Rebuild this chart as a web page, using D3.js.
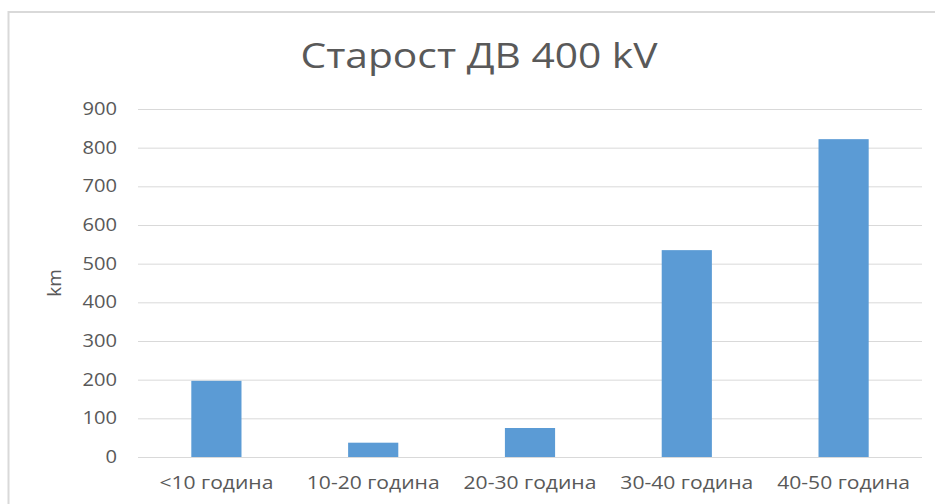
<!DOCTYPE html>
<html>
<head>
<meta charset="utf-8">
<script src="https://cdn.jsdelivr.net/npm/d3@7/dist/d3.min.js"></script>
<style>
  body { margin: 0; background: #fff; }
  text { font-family: "Open Sans", sans-serif; fill: #595959; }
</style>
</head>
<body>
<svg width="935" height="504"></svg>
<script>
var categories = ['<10 година', '10-20 година', '20-30 година', '30-40 година', '40-50 година'];
var values = [197, 37, 75, 535, 822];
var yTicks = [0, 100, 200, 300, 400, 500, 600, 700, 800, 900];

var svg = d3.select('svg');
var margin = {left: 138, right: 13, top: 109, bottom: 47};
var width = 935;
var height = 504;

// stretch text a bit wider, the original looks horizontally scaled
function widen(sel, k) {
  sel.each(function(){
    var len = this.getComputedTextLength();
    d3.select(this)
      .attr('textLength', len * k)
      .attr('lengthAdjust', 'spacingAndGlyphs');
  });
}

// chart frame
svg.append('rect')
  .attr('x', 8.5).attr('y', 12)
  .attr('width', 940).attr('height', 510)
  .attr('fill', 'none')
  .attr('stroke', '#d9d9d9')
  .attr('stroke-width', 2);

var x = d3.scaleBand()
  .domain(categories)
  .range([margin.left, width - margin.right])
  .paddingInner(0.68)
  .paddingOuter(0.34);

var y = d3.scaleLinear()
  .domain([0, 900])
  .range([height - margin.bottom, margin.top]);

// gridlines
var yAxis = d3.axisLeft(y)
  .tickValues(yTicks)
  .tickSize(-(width - margin.left - margin.right))
  .tickPadding(21)
  .tickFormat(d3.format('d'));

var gy = svg.append('g')
  .attr('transform', 'translate(' + margin.left + ',0)')
  .call(yAxis);
gy.select('.domain').remove();
gy.selectAll('line').attr('stroke', '#d9d9d9').attr('stroke-width', 1);
gy.selectAll('text')
  .attr('font-size', '17.5px')
  .attr('fill', '#595959')
  .call(widen, 1.15);

// bars
svg.selectAll('rect.bar')
  .data(values)
  .enter()
  .append('rect')
  .attr('class', 'bar')
  .attr('x', function(d, i){
    return x(categories[i]);
  })
  .attr('y', function(d){
    return y(d);
  })
  .attr('width', x.bandwidth())
  .attr('height', function(d){
    return y(0) - y(d);
  })
  .attr('fill', '#5b9bd5');

// category labels
var xAxis = d3.axisBottom(x).tickSize(0).tickPadding(19);
var gx = svg.append('g')
  .attr('transform', 'translate(0,' + y(0) + ')')
  .call(xAxis);
gx.select('.domain').remove();
gx.selectAll('text')
  .attr('font-size', '18.5px')
  .attr('fill', '#595959')
  .call(widen, 1.14);

// title
svg.append('text')
  .attr('x', 479)
  .attr('y', 68)
  .attr('text-anchor', 'middle')
  .attr('font-size', '34px')
  .attr('textLength', 357)
  .attr('lengthAdjust', 'spacingAndGlyphs')
  .text('Старост ДВ 400 kV');

// y axis title
svg.append('text')
  .attr('transform', 'translate(61,' + (height - margin.bottom + margin.top) / 2 + ') rotate(-90)')
  .attr('text-anchor', 'middle')
  .attr('font-size', '19px')
  .text('km');
</script>
</body>
</html>
